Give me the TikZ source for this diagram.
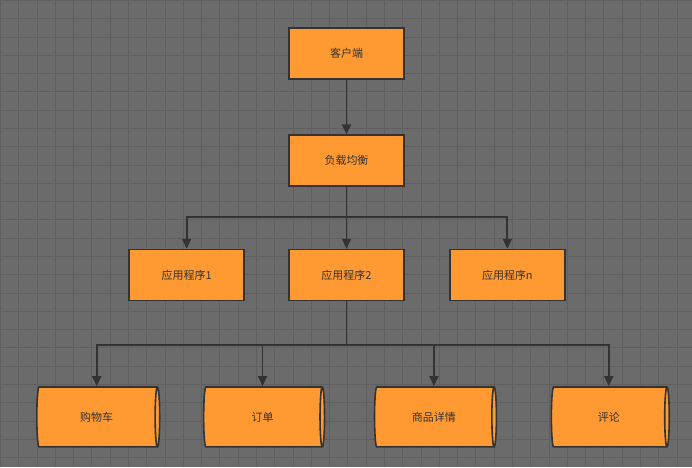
\documentclass[tikz,border=0pt]{standalone}
\usepackage{fontspec}
\setmainfont{Noto Sans CJK SC}
\usetikzlibrary{shapes.geometric,arrows.meta}
\definecolor{bg}{HTML}{6B6B6B}
\definecolor{gridc}{HTML}{5F5F5F}
\definecolor{boxf}{HTML}{FF9A33}
\definecolor{edge}{HTML}{333333}
\tikzset{
  box/.style={draw=edge,line width=1.6pt,fill=boxf,minimum width=115pt,minimum height=51pt,inner sep=0pt,font=\fontsize{11}{13}\selectfont,text=edge},
  db/.style={cylinder,draw=edge,line width=1.6pt,fill=boxf,shape aspect=0.45,minimum width=60pt,inner sep=0pt,font=\fontsize{11}{13}\selectfont,text=edge},
  conn/.style={draw=edge,line width=1.8pt,-{Triangle[length=10pt,width=9pt]}}
}
\begin{document}
\begin{tikzpicture}[x=1pt,y=-1pt]
\fill[bg] (0,0) rectangle (692,467);
\draw[gridc,line width=0.6pt,step=18.3pt] (0,0) grid (692,467);
\useasboundingbox (0,0) rectangle (692,467);
\node[box] (c) at (346.5,53.5) {客户端};
\node[box] (lb) at (346.5,160.5) {负载均衡};
\node[box] (a1) at (186.5,275) {应用程序1};
\node[box] (a2) at (346.5,275) {应用程序2};
\node[box] (an) at (507.5,275) {应用程序n};
\node[db,minimum height=123pt] (d1) at (96.5,417) {购物车};
\node[db,minimum height=121pt] (d2) at (262.5,417) {订单};
\node[db,minimum height=122pt] (d3) at (434,417) {商品详情};
\node[db,minimum height=118pt] (d4) at (609,417) {评论};
\coordinate (j1) at (346.5,217);
\coordinate (j2) at (346.5,345);
\draw[conn] (c) -- (lb);
\draw[draw=edge,line width=1.8pt] (lb) -- (j1);
\draw[conn] (j1) -| (a1);
\draw[conn] (j1) -- (a2);
\draw[conn] (j1) -| (an);
\draw[draw=edge,line width=1.8pt] (a2) -- (j2);
\draw[conn] (j2) -| (d1.north);
\draw[conn] (j2) -| (d2.north);
\draw[conn] (j2) -| (d3.north);
\draw[conn] (j2) -| (d4.north);
\end{tikzpicture}
\end{document}
